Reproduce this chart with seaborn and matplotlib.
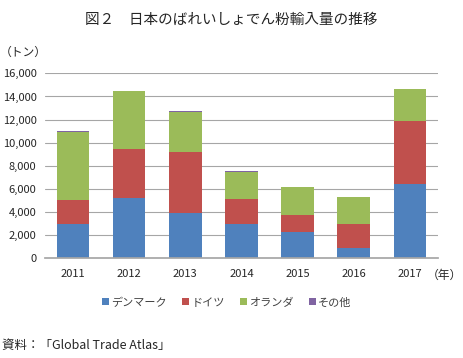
import numpy as np
import pandas as pd
import seaborn as sns
import matplotlib.pyplot as plt
from matplotlib.patches import Patch

sns.set_theme(style="white")
plt.rcParams['font.family'] = ['Noto Sans CJK JP', 'DejaVu Sans']

# Data (tons)
years = ["2011", "2012", "2013", "2014", "2015", "2016", "2017"]
denmark = [2950, 5230, 3880, 2950, 2250, 840, 6450]
germany = [2060, 4220, 5310, 2190, 1480, 2140, 5400]
netherlands = [5950, 5010, 3500, 2350, 2460, 2280, 2840]
others = [60, 40, 60, 60, 0, 50, 0]
series_names = ["デンマーク", "ドイツ", "オランダ", "その他"]
colors = ["#4F81BD", "#C0504D", "#9BBB59", "#8064A2"]

df = pd.DataFrame({"year": years, "d": denmark, "g": germany,
                   "n": netherlands, "o": others})
df["c1"] = df.d
df["c2"] = df.c1 + df.g
df["c3"] = df.c2 + df.n
df["c4"] = df.c3 + df.o

fig = plt.figure(figsize=(4.63, 3.58), dpi=100)
ax = fig.add_axes([0.097, 0.279, 0.849, 0.516])

# stacked bars: draw cumulative totals from top to bottom
for col, c in zip(["c4", "c3", "c2", "c1"], colors[::-1]):
    sns.barplot(data=df, x="year", y=col, color=c, width=0.58,
                saturation=1, ax=ax, linewidth=0)

ax.set_ylim(0, 16000)
ax.set_yticks(range(0, 16001, 2000))
ax.set_yticklabels([f"{v:,}" for v in range(0, 16001, 2000)])
ax.yaxis.grid(True, color="#a6a6a6", linewidth=0.8)
ax.set_axisbelow(True)
for s in ["top", "right", "left"]:
    ax.spines[s].set_visible(False)
ax.spines["bottom"].set_color("#a6a6a6")
ax.tick_params(axis="both", length=0, labelsize=8, colors="#262626")
ax.tick_params(axis="x", pad=8)
ax.tick_params(axis="y", pad=6)
ax.set_xlabel("")
ax.set_ylabel("")

fig.text(0.5, 0.945, "図２　日本のばれいしょでん粉輸入量の推移",
         ha="center", va="center", fontsize=10.5, color="#262626")
fig.text(0.0, 0.855, "（トン）", ha="left", va="center", fontsize=8.5,
         color="#262626")
fig.text(0.998, 0.232, "（年）", ha="right", va="center", fontsize=8.5,
         color="#262626")

handles = [Patch(facecolor=c, edgecolor="none") for c in colors]
fig.legend(handles, series_names, loc="center", bbox_to_anchor=(0.49, 0.155),
           ncol=4, frameon=False, fontsize=8, handlelength=0.6,
           handleheight=0.6, handletextpad=0.2, columnspacing=1.4,
           labelcolor="#404040")

fig.text(0.005, 0.035, "資料：「Global Trade Atlas」", ha="left",
         va="center", fontsize=9, color="#262626")

fig.savefig("out.png", dpi=100)
